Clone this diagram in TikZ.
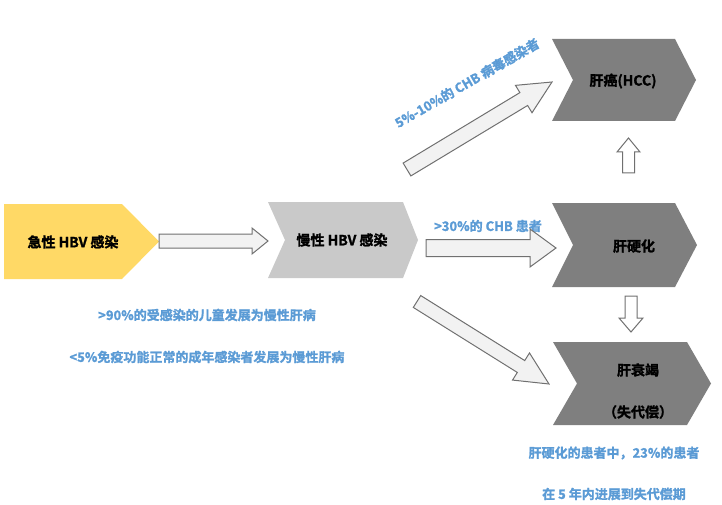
\documentclass[tikz,border=0pt]{standalone}
\usepackage{fontspec}
\setmainfont{Noto Sans CJK SC}[BoldFont={Noto Sans CJK SC Bold}, BoldFeatures={FakeBold=1.5}]
\usetikzlibrary{calc}

\definecolor{acute}{HTML}{FFD966}
\definecolor{chronic}{HTML}{C9C9C9}
\definecolor{stage}{HTML}{7F7F7F}
\definecolor{note}{HTML}{5B9BD5}
\definecolor{rim}{HTML}{707070}
\definecolor{shaft}{HTML}{F2F2F2}

% #2 from, #3 to, #4 half shaft, #5 half head, #6 head length
\newcommand{\blockarrow}[6][]{%
  \coordinate (hb) at ($(#3)!#6!(#2)$);
  \draw[#1] ($(#2)!#4!90:(#3)$) -- ($(hb)!#4!90:(#3)$) -- ($(hb)!#5!90:(#3)$) -- (#3)
    -- ($(hb)!#5!-90:(#3)$) -- ($(hb)!#4!-90:(#3)$) -- ($(#2)!#4!-90:(#3)$) -- cycle;}

\begin{document}
\begin{tikzpicture}[x=1pt, y=-1pt,
	stagetext/.style={inner sep=0pt, font=\bfseries\fontsize{14}{16}\selectfont},
	notetext/.style={inner sep=0pt, text=note, font=\bfseries\fontsize{13}{15}\selectfont},
	flatarrow/.style={fill=shaft, draw=rim, line width=1pt, line join=miter},
	openarrow/.style={fill=white, draw=rim, line width=1pt, line join=miter}]
		\useasboundingbox (0, 0) rectangle (722, 505);

		\fill[acute] (4, 204) -- (122, 204) -- (159, 241.5) -- (122, 279) -- (4, 279) -- cycle;
		\fill[chronic] (268, 202) -- (403, 202) -- (418, 240) -- (403, 278) -- (268, 278) -- (285, 240) -- cycle;
		\fill[stage] (552, 39) -- (675, 39) -- (696, 80) -- (675, 121) -- (552, 121) -- (573, 80) -- cycle;
		\fill[stage] (552, 203) -- (675, 203) -- (697, 245) -- (675, 287) -- (552, 287) -- (573, 245) -- cycle;
		\fill[stage] (553, 342) -- (687, 342) -- (711, 383.5) -- (687, 425) -- (553, 425) -- (577, 383.5) -- cycle;

		\path (73, 242) node[stagetext] (acute) {急性 HBV 感染}
  		(342, 240) node[stagetext] (chronic) {慢性 HBV 感染}
  		(623, 81) node[stagetext] (hcc) {肝癌(HCC)}
  		(634, 246) node[stagetext] (cirrhosis) {肝硬化}
  		(638, 370) node[stagetext] (failure) {肝衰竭}
  		(638, 412) node[stagetext] (decomp) {（失代偿）};

		\path (207, 315) node[notetext] (children) {>90\%的受感染的儿童发展为慢性肝病}
  		(207, 357) node[notetext] (adults) {<5\%免疫功能正常的成年感染者发展为慢性肝病}
  		(488, 226) node[notetext] (chb30) {>30\%的 CHB 患者}
  		(467, 83) node[notetext, rotate=30] (chb5) {5\%-10\%的 CHB 病毒感染者}
  		(614, 453) node[notetext] (rate23) {肝硬化的患者中，23\%的患者}
  		(614, 494) node[notetext] (years5) {在 5 年内进展到失代偿期};

		\coordinate (acute-out) at (159, 241);
		\coordinate (chronic-in) at (268, 241);
		\coordinate (chronic-mid) at (426, 248);
		\coordinate (cirrhosis-in) at (556, 248);
		\coordinate (chronic-top) at (407, 169.5);
		\coordinate (hcc-in) at (552, 82);
		\coordinate (chronic-low) at (417, 301.5);
		\coordinate (failure-in) at (549, 384);
		\coordinate (cirrhosis-top) at (628.5, 173);
		\coordinate (hcc-low) at (628.5, 138);
		\coordinate (cirrhosis-low) at (631, 296);
		\coordinate (failure-top) at (631, 332);

		\blockarrow[flatarrow]{acute-out}{chronic-in}{7pt}{13pt}{16pt}
		\blockarrow[flatarrow]{chronic-mid}{cirrhosis-in}{8.5pt}{19pt}{26pt}
		\blockarrow[flatarrow]{chronic-top}{hcc-in}{7.5pt}{16pt}{33pt}
		\blockarrow[flatarrow]{chronic-low}{failure-in}{7pt}{16pt}{33pt}
		\blockarrow[openarrow]{cirrhosis-top}{hcc-low}{6pt}{11.5pt}{14pt}
		\blockarrow[openarrow]{cirrhosis-low}{failure-top}{6pt}{12pt}{14pt}
	\end{tikzpicture}
\end{document}
